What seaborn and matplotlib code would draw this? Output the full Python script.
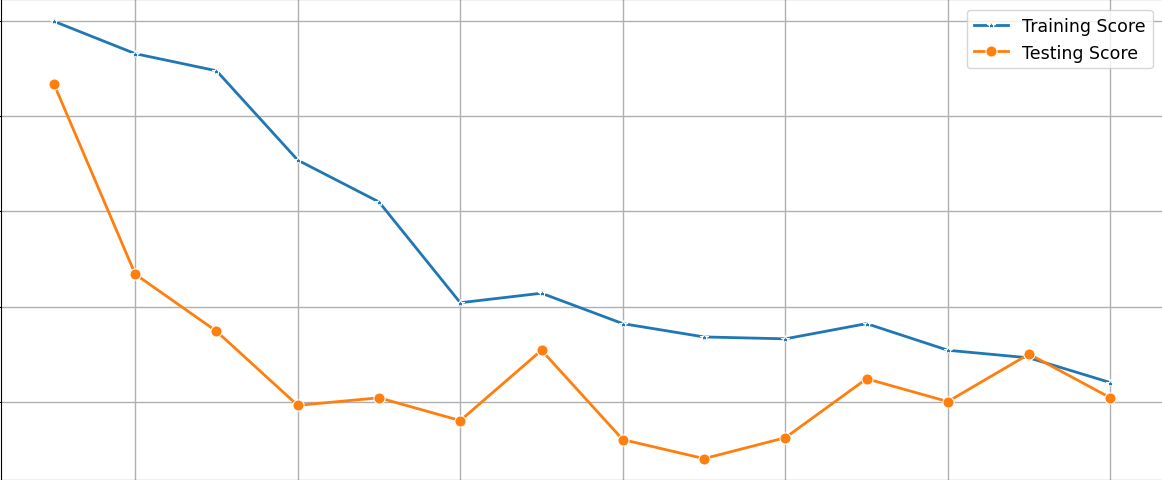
import matplotlib
matplotlib.use("Agg")
import matplotlib.pyplot as plt
import seaborn as sns
import pandas as pd

# values (tick labels are cropped out of the reference)
steps = list(range(1, 15))
training_score = [1.000, 0.983, 0.974, 0.927, 0.905, 0.852, 0.857,
                  0.841, 0.834, 0.833, 0.841, 0.827, 0.823, 0.810]
testing_score = [0.967, 0.867, 0.837, 0.798, 0.802, 0.790, 0.827,
                 0.780, 0.770, 0.781, 0.812, 0.800, 0.825, 0.802]

df = pd.DataFrame({"Step": steps,
                   "Training Score": training_score,
                   "Testing Score": testing_score})

fig = plt.figure(figsize=(11.62, 4.81), dpi=100)
ax = fig.add_axes([0.001, -0.001, 1.0, 1.0])

sns.lineplot(x="Step", y="Training Score", data=df, marker='*',
             markersize=6, linewidth=2.0, color='C0', label="Training Score", ax=ax)
sns.lineplot(x="Step", y="Testing Score", data=df, marker='o',
             markersize=8, linewidth=2.0, color='C1', label="Testing Score", ax=ax)

ax.set_xticks(steps[1::2])
ax.set_yticks([0.80, 0.85, 0.90, 0.95, 1.00])
ax.grid(True, color='#b0b0b0', linewidth=1.0)
ax.set_xlabel("")
ax.set_ylabel("")
ax.legend(loc="upper right", fontsize=12.5, borderaxespad=0.6)

fig.savefig("out.png", dpi=100)
